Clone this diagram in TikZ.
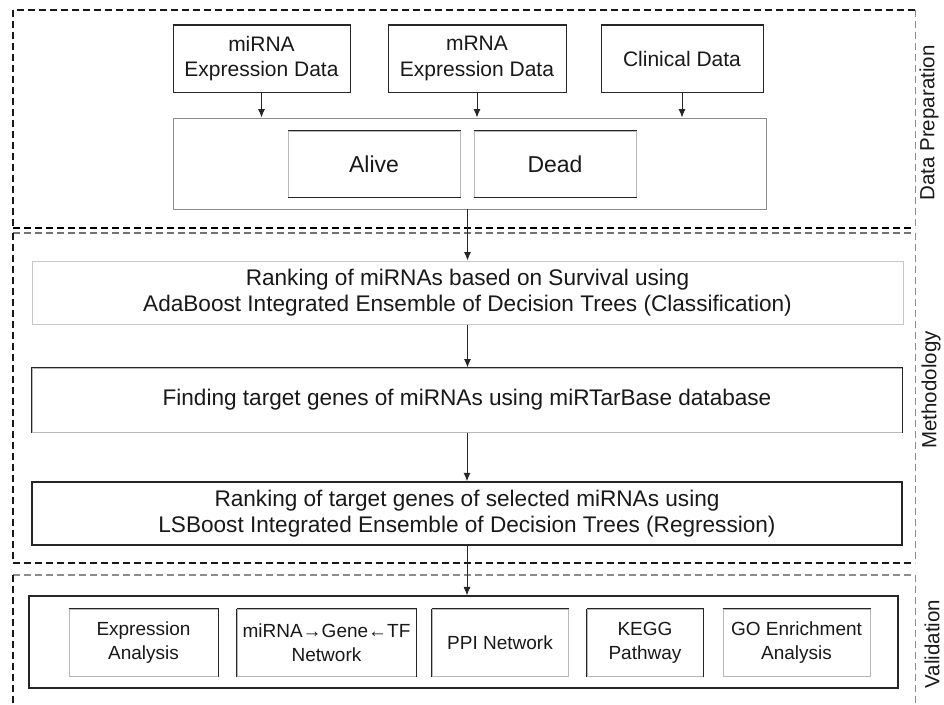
\documentclass[tikz,border=0pt]{standalone}
\usepackage{fontspec}
\setmainfont{Liberation Sans}
\usetikzlibrary{arrows.meta}
\begin{document}
\begin{tikzpicture}[x=1pt,y=-1pt,
  dbox/.style={draw=black!85, line width=1pt, rectangle, inner sep=0pt, align=center, text=black!90},
  lbox/.style={draw=black!28, line width=1pt, rectangle, inner sep=0pt, align=center, text=black!90},
  ftop/.style={font=\fontsize{21}{25.6}\selectfont},
  fmid/.style={font=\fontsize{22.6}{26}\selectfont},
  fsml/.style={font=\fontsize{19}{24.3}\selectfont},
  fbig/.style={font=\fontsize{23}{26}\selectfont},
  arr/.style={line width=1pt, draw=black!85, -{Latex[length=8.5pt,width=7pt]}},
  frame/.style={dash pattern=on 7pt off 4pt, line width=1.1pt},
  rframe/.style={dash pattern=on 7pt off 4pt, line width=0.6pt, draw=black!45},
  edge/.style={draw=black!85, line width=1.2pt},
  sidelabel/.style={rotate=90, font=\fontsize{20.5}{24}\selectfont, text=black!90, inner sep=0pt}
]
\path[use as bounding box, fill=white] (0,0) rectangle (944,704);

% ---------- dashed section frames ----------
\draw[frame, draw=black!90] (915,10) -- (13,10);
\draw[frame, draw=black!90] (13,10) -- (13,228);
\draw[frame, draw=black, line width=1.5pt] (13,228) -- (915,228);
\draw[rframe] (915,10) -- (915,228);

\draw[frame, draw=black!55, line width=1.4pt] (13,233) -- (915,233);
\draw[frame, draw=black!90] (13,233) -- (13,563);
\draw[frame, draw=black!90] (13,563) -- (915,563);
\draw[rframe] (915,233) -- (915,563);

\draw[frame, draw=black!45] (13,575) -- (915,575);
\draw[frame, draw=black!90] (13,575) -- (13,704);
\draw[rframe] (915,575) -- (915,704);

% ---------- side labels ----------
\node[sidelabel] (lbdp) at (929,123) {Data Preparation};
\node[sidelabel] (lbme) at (931,390) {Methodology};
\node[sidelabel] (lbva) at (932,644) {Validation};

% ---------- data preparation ----------
\node[dbox, ftop, minimum width=177pt, minimum height=67pt] (mirna) at (261.5,58.5) {miRNA\\Expression Data};
\node[dbox, ftop, minimum width=178pt, minimum height=67pt] (mrna) at (477,58.5) {mRNA\\Expression Data};
\node[dbox, ftop, minimum width=162pt, minimum height=67pt] (clin) at (682,58.5) {Clinical Data};
\foreach \n in {mirna,mrna,clin} \draw[edge, line width=1.6pt] (\n.north west) -- (\n.north east);

\node[draw=black!45, line width=0.9pt, rectangle, inner sep=0pt, minimum width=593pt, minimum height=91pt] (split) at (469.5,163.5) {};
\node[lbox, fbig, minimum width=172pt, minimum height=66pt] (alive) at (374,164) {Alive};
\node[lbox, fbig, minimum width=162pt, minimum height=66pt] (dead) at (555,164) {Dead};
\foreach \n in {alive,dead} {
  \draw[edge] (\n.north west) -- (\n.north east);
  \draw[edge] (\n.south west) -- (\n.south east);
}

\draw[arr] (mirna.south) -- (mirna.south |- split.north);
\draw[arr] (mrna.south) -- (mrna.south |- split.north);
\draw[arr] (clin.south) -- (clin.south |- split.north);

% ---------- methodology ----------
\node[lbox, fmid, draw=black!22, minimum width=871pt, minimum height=63pt] (ada) at (467.5,292.5)
  {Ranking of miRNAs based on Survival using\\AdaBoost Integrated Ensemble of Decision Trees (Classification)};
\node[lbox, fmid, minimum width=870pt, minimum height=64pt] (find) at (467,400)
  {Finding target genes of miRNAs using miRTarBase database};
\draw[edge, line width=1pt] (find.south west) -- (find.north west) -- (find.north east) -- (find.south east);
\node[dbox, fmid, line width=1.4pt, minimum width=870pt, minimum height=63pt] (ls) at (467,513.5)
  {Ranking of target genes of selected miRNAs using\\LSBoost Integrated Ensemble of Decision Trees (Regression)};

\draw[arr] (ada.north |- split.south) -- (ada.north);
\draw[arr] (ada.south) -- (ada.south |- find.north);
\draw[arr] (find.south) -- (find.south |- ls.north);

% ---------- validation ----------
\node[dbox, line width=1.1pt, minimum width=869pt, minimum height=92pt] (val) at (463.5,642) {};
\draw[edge, line width=1.8pt] (val.south west) -- (val.south east);

\node[lbox, fsml, minimum width=149pt, minimum height=67pt] (expr) at (143.5,642.5) {Expression\\Analysis};
\node[lbox, fsml, minimum width=179pt, minimum height=67pt] (net) at (326.5,642.5) {miRNA→Gene←TF\\Network};
\node[lbox, fsml, minimum width=136pt, minimum height=67pt] (ppi) at (500,642.5) {PPI Network};
\node[lbox, fsml, minimum width=116pt, minimum height=67pt] (kegg) at (645,642.5) {KEGG\\Pathway};
\node[lbox, fsml, minimum width=147pt, minimum height=67pt] (go) at (796.5,642.5) {GO Enrichment\\Analysis};
\foreach \n in {expr,net,ppi,kegg,go} \draw[edge, line width=1pt] (\n.north west) -- (\n.north east);
\draw[edge, line width=1pt] (expr.north east) -- (expr.south east);
\draw[edge, line width=1pt] (net.north west) -- (net.south west);
\draw[edge, line width=1pt] (net.north east) -- (net.south east);
\draw[edge, line width=1pt] (ppi.north west) -- (ppi.south west);
\draw[edge, line width=1pt] (kegg.north west) -- (kegg.south west);
\draw[edge, line width=1pt] (kegg.north east) -- (kegg.south east);

\draw[arr] (ls.south) -- (ls.south |- val.north);
\end{tikzpicture}
\end{document}
